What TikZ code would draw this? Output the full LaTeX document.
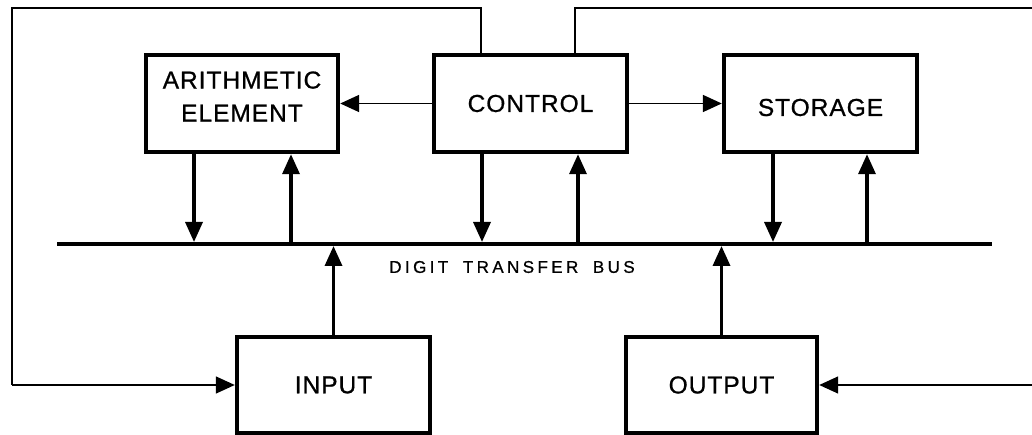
\documentclass[tikz,border=0pt]{standalone}
\usepackage{fontspec}
\setmainfont{Liberation Sans}
\newfontfamily\boxfont[LetterSpace=4,FakeBold=0.8]{Liberation Sans}
\newfontfamily\busfont[LetterSpace=20,WordSpace=1.8,FakeBold=0.8]{Liberation Sans}
\usetikzlibrary{arrows.meta}
\begin{document}
\begin{tikzpicture}[x=1pt,y=-1pt,
  unit/.style={draw,line width=4.4pt,minimum height=97pt,inner sep=0pt,align=center,
    font=\boxfont\fontsize{24.5}{33}\selectfont},
  busline/.style={line width=4.4pt},
  dataarrow/.style={line width=3.4pt,-{Triangle[length=20pt,width=17pt]}},
  ctrlarrow/.style={line width=1.8pt,-{Triangle[length=19pt,width=17pt]}},
  feedline/.style={line width=1.5pt},
  feedarrow/.style={line width=1.5pt,-{Triangle[length=19pt,width=17pt]}}]
\useasboundingbox (0,0) rectangle (1032,435);
\clip (0,0) rectangle (1032,435);
% units
\node[unit,minimum width=192pt,
  label={[font=\boxfont\fontsize{24.5}{33}\selectfont,align=center,yshift=7pt]center:ARITHMETIC\\ELEMENT}]
  (arith) at (242,103.5) {};
\node[unit,minimum width=193pt] (ctl) at (530.5,103.5) {CONTROL};
\node[unit,minimum width=193pt,
  label={[font=\boxfont\fontsize{24.5}{33}\selectfont,yshift=-4pt]center:STORAGE}]
  (stor) at (820.5,103.5) {};
\node[unit,minimum width=193pt,minimum height=96pt] (inp) at (333.5,385) {INPUT};
\node[unit,minimum width=191pt,minimum height=96pt] (outp) at (721.5,385) {OUTPUT};
% bus
\coordinate (busL) at (57,244);
\coordinate (busR) at (992,244);
\draw[busline] (busL) -- (busR);
\node[font=\busfont\fontsize{17}{19}\selectfont] (buslabel) at (512,267) {DIGIT TRANSFER BUS};
% bus taps
\coordinate (a1) at (194,242);
\coordinate (a2) at (291,242);
\coordinate (c1) at (482,242);
\coordinate (c2) at (578,242);
\coordinate (s1) at (773,242);
\coordinate (s2) at (867,242);
\draw[dataarrow] (arith.south -| a1) -- (a1);
\draw[dataarrow] (a2) -- (arith.south -| a2);
\draw[dataarrow] (ctl.south -| c1) -- (c1);
\draw[dataarrow] (c2) -- (ctl.south -| c2);
\draw[dataarrow] (stor.south -| s1) -- (s1);
\draw[dataarrow] (s2) -- (stor.south -| s2);
\draw[dataarrow] (inp.north) -- ([yshift=-2pt]inp.north |- busR);
\draw[dataarrow] (outp.north) -- ([yshift=-2pt]outp.north |- busR);
% control lines
\draw[ctrlarrow] (ctl.west) -- (arith.east);
\draw[ctrlarrow] (ctl.east) -- (stor.west);
% feedback loops
\coordinate (tl) at (12,8);
\coordinate (tr) at (1040,8);
\coordinate (fl) at (481,0);
\coordinate (fr) at (575,0);
\draw[feedline] (ctl.north -| fl) -- (fl |- tl) -- (tl) -- (tl |- inp.west);
\draw[feedarrow] (tl |- inp.west) -- (inp.west);
\draw[feedline] (ctl.north -| fr) -- (fr |- tr) -- (tr) -- (tr |- outp.east);
\draw[feedarrow] (tr |- outp.east) -- (outp.east);
\end{tikzpicture}
\end{document}
